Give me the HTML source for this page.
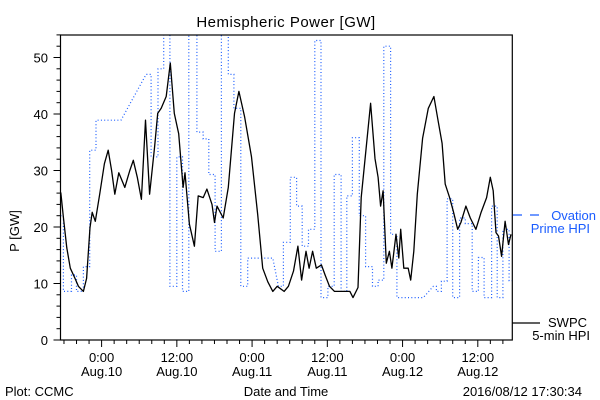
<!DOCTYPE html>
<html><head><meta charset="utf-8"><style>
html,body{margin:0;padding:0;background:#fff;}
svg{display:block;font-family:"Liberation Sans",sans-serif;}
</style></head><body>
<svg id="chart" width="600" height="400" viewBox="0 0 600 400" xmlns="http://www.w3.org/2000/svg">
<defs><clipPath id="plotclip"><rect x="60.5" y="35" width="451.8" height="305"/></clipPath></defs>
<text x="286" y="27" font-size="15" text-anchor="middle" letter-spacing="0.5">Hemispheric Power [GW]</text>
<text transform="translate(19,231) rotate(-90)" font-size="13" text-anchor="middle">P [GW]</text>
<g id="axes"></g>
<g id="series" clip-path="url(#plotclip)"></g>
<rect x="60.5" y="35" width="451.8" height="305" fill="none" stroke="#000" stroke-width="1.2"/>
<g>
  <line x1="513" y1="215" x2="540" y2="215" stroke="#1a5cff" stroke-width="1.2" stroke-dasharray="9 8"/>
  <text x="596" y="220" font-size="13" fill="#1a5cff" text-anchor="end">Ovation</text>
  <text x="590" y="233" font-size="13" fill="#1a5cff" text-anchor="end">Prime HPI</text>
  <line x1="512" y1="323" x2="540" y2="323" stroke="#000" stroke-width="1.2"/>
  <text x="587" y="327" font-size="13" text-anchor="end">SWPC</text>
  <text x="590" y="340" font-size="13" text-anchor="end">5-min HPI</text>
</g>
<text x="286" y="396" font-size="13" text-anchor="middle">Date and Time</text>
<text x="5" y="396" font-size="13">Plot: CCMC</text>
<text x="582" y="396" font-size="13" text-anchor="end">2016/08/12 17:30:34</text>
</svg>
<script>
// hours relative to Aug.10 00:00
const swpcHours = [-6.5,-6.1,-5.55,-5,-4.25,-3.7,-2.9,-2.4,-1.85,-1.5,-1,-0.3,0.45,1.05,1.6,2.1,2.75,3.7,4.5,5.05,5.7,6.35,7,7.65,8.45,8.95,9.5,10.3,10.95,11.6,12.3,13,13.3,14,14.8,15.4,16.2,16.8,17.6,18,18.4,19.4,20.2,21.2,21.9,22.8,23.9,24.9,25.7,26.5,27.3,28,29.1,29.8,30.6,31.3,31.9,32.6,33.1,33.65,34.25,35.05,35.65,36.35,37.15,39.6,40.1,40.9,41.4,42.1,42.9,43.6,44.1,44.5,44.9,45.4,45.9,46.3,46.95,47.4,47.7,48.2,48.9,49.3,49.8,50.35,51.2,52.1,53,53.65,54.3,54.8,55.5,56.1,56.8,57.3,58.1,58.8,59.7,60.5,61.4,62,62.45,62.9,63.3,63.8,64.35,64.9,65.3];
const swpcValues = [26.1,21.7,16.3,12.7,10.9,9.5,8.6,10.9,19.9,22.6,21,25.8,31.2,33.6,30,25.8,29.6,27,30,31.8,28.8,24.9,38.9,25.8,34.2,40.1,41,43.1,49,40.1,36.5,27,29.6,20.5,16.6,25.5,25.2,26.7,24,20.8,23.7,21.6,27,40.1,44,39.5,32.4,22.2,12.7,10.3,8.6,9.5,8.6,9.5,12.2,16.6,10.6,15.7,12.7,15.7,12.7,13.3,11.5,9.5,8.6,8.6,7.5,9.3,25.2,33,41.9,32.1,28.8,23.7,26.4,13.6,15.7,12.7,18.7,14.5,19.6,12.7,12.7,10.6,15.7,25.8,35.7,41,43.1,38.9,34.8,27.6,25.2,22.8,19.6,20.8,23.7,21.6,19.6,22.5,25.2,28.8,26.4,19,18.4,14.8,21,16.9,18.7];
const ovHours = [-6.55,-6.1,-6.1,-4.8,-4.8,-4,-4,-2.9,-2.9,-1.9,
 -1.9,-0.9,-0.9,3.1,7.1,7.9,7.9,9,9,9.9,
 9.9,10.9,10.9,12,12,12.9,12.9,13.9,13.9,15.2,
 15.2,16.2,16.2,17.1,17.1,18.1,18.1,19.1,19.1,20.2,
 20.2,21.1,21.1,22.2,22.2,23.3,23.3,27.3,28.2,29,
 29,30.1,30.1,31.1,31.1,32,32,33,33,34,
 34,35,35,36.1,36.1,37.1,37.1,38.2,38.2,39.1,
 39.1,40,40,41.1,41.1,42.1,42.1,43.2,43.2,44.1,
 44.1,45,45,46.1,46.1,47.1,47.1,51.3,52.9,53.4,
 53.4,54.2,54.2,55.1,55.1,56,56,57.1,57.1,58,
 58,59.1,59.1,60.1,60.1,61,61,62.2,62.2,63.1,
 63.1,64,64,65,65,65.5];
const ovValues = [22,22,8.6,8.6,11.5,11.5,8.6,8.6,13,13,
 33.6,33.6,38.9,38.9,47,47,32.4,32.4,48,48,
 56,56,9.5,9.5,32.4,32.4,8.6,8.6,56,56,
 36.8,36.8,35.6,35.6,29.3,29.3,15.7,15.7,56,56,
 47,47,41,41,9.5,9.5,14.5,14.5,9.5,9.5,
 17.3,17.3,28.8,28.8,23.7,23.7,16.6,16.6,19.6,19.6,
 53,53,7.5,7.5,9.5,9.5,29.3,29.3,8.6,8.6,
 25.5,25.5,35.8,35.8,22,22,13,13,9.5,9.5,
 10.6,10.6,52,52,18.7,18.7,7.5,7.5,9.5,9.5,
 8.6,8.6,10.4,10.4,25,25,7.5,7.5,21.6,21.6,
 20.6,20.6,8.6,8.6,14.6,14.6,7.5,7.5,23.7,23.7,
 7.5,7.5,19.6,19.6,10.5,10.5];
const yTickValues = [0,10,20,30,40,50];
const xTickHours = [0,12,24,36,48,60];
const xTickTimes = ["0:00","12:00","0:00","12:00","0:00","12:00"];
const xTickDates = ["Aug.10","Aug.10","Aug.11","Aug.11","Aug.12","Aug.12"];

const NS = "http://www.w3.org/2000/svg";
const X0 = 101.6, PXH = 6.27, Y0 = 340, PXV = 5.65;
function xScale(h){ return X0 + PXH*h; }
function yScale(v){ return Y0 - PXV*v; }
function mk(tag, attrs, parent){
  const e = document.createElementNS(NS, tag);
  for (const k in attrs) e.setAttribute(k, attrs[k]);
  parent.appendChild(e); return e;
}
const axes = document.getElementById('axes');
const series = document.getElementById('series');

// y ticks
for (let v = 0; v <= 54; v += 2) {
  const major = v % 10 === 0;
  const t = mk('line', {x1: 60.5 - (major ? 7 : 4), x2: 60.5, y1: yScale(v), y2: yScale(v), stroke: '#000', 'stroke-width': 1}, axes);
  
  
}
yTickValues.forEach(v => {
  const t = mk('text', {x: 48, y: yScale(v) + 5, 'font-size': 13, 'text-anchor': 'end'}, axes);
  t.textContent = v;
  
  
});
// x ticks
for (let h = -6; h <= 65; h += 2) {
  const major = ((h % 12) + 12) % 12 === 0;
  const t = mk('line', {x1: xScale(h), x2: xScale(h), y1: 340, y2: 340 + (major ? 7 : 4), stroke: '#000', 'stroke-width': 1}, axes);
  
  
}
xTickHours.forEach((h, i) => {
  const a = mk('text', {x: xScale(h), y: 362, 'font-size': 13, 'text-anchor': 'middle'}, axes);
  a.textContent = xTickTimes[i];
  
  
  const b = mk('text', {x: xScale(h), y: 376, 'font-size': 13, 'text-anchor': 'middle'}, axes);
  b.textContent = xTickDates[i];
  
  
});
// series
const ovPts = ovHours.map((h, i) => xScale(h).toFixed(1) + ',' + yScale(ovValues[i]).toFixed(1)).join(' ');
const ov = mk('polyline', {points: ovPts, fill: 'none', stroke: '#1a5cff', 'stroke-width': 1.2, 'stroke-dasharray': '1 2.3'}, series);


const swPts = swpcHours.map((h, i) => xScale(h).toFixed(1) + ',' + yScale(swpcValues[i]).toFixed(1)).join(' ');
const sw = mk('polyline', {points: swPts, fill: 'none', stroke: '#000', 'stroke-width': 1.3, 'stroke-linejoin': 'round'}, series);


</script>
</body></html>
